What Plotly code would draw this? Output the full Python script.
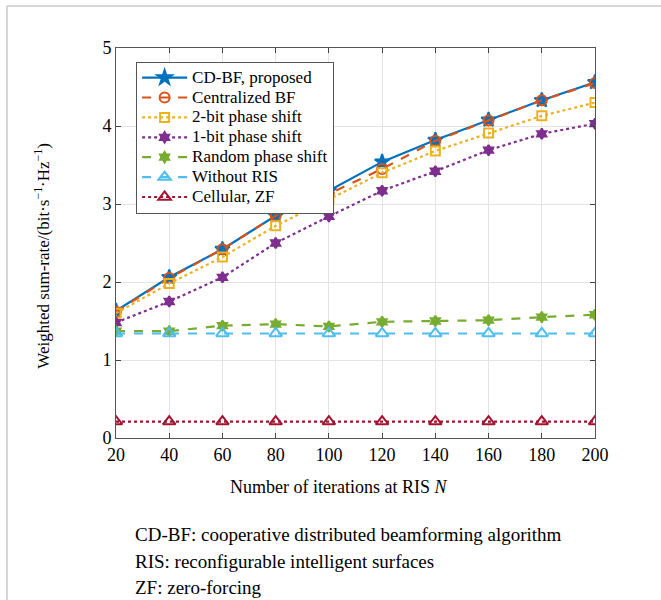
import plotly.graph_objects as go

N = [20, 40, 60, 80, 100, 120, 140, 160, 180, 200]
cdbf = [1.63, 2.06, 2.42, 2.85, 3.17, 3.54, 3.82, 4.08, 4.33, 4.56]
central = [1.62, 2.05, 2.42, 2.85, 3.13, 3.45, 3.81, 4.07, 4.33, 4.55]
bit2 = [1.60, 1.98, 2.32, 2.72, 3.06, 3.40, 3.68, 3.91, 4.13, 4.30]
bit1 = [1.48, 1.75, 2.06, 2.50, 2.84, 3.17, 3.42, 3.69, 3.90, 4.03]
rand_ps = [1.37, 1.37, 1.44, 1.46, 1.43, 1.49, 1.50, 1.51, 1.55, 1.58]
no_ris = [1.34, 1.34, 1.34, 1.34, 1.34, 1.34, 1.34, 1.34, 1.34, 1.34]
cell_zf = [0.21, 0.21, 0.21, 0.21, 0.21, 0.21, 0.21, 0.21, 0.21, 0.21]

names = ["CD-BF, proposed", "Centralized BF", "2-bit phase shift", "1-bit phase shift",
         "Random phase shift", "Without RIS", "Cellular, ZF"]
x_ticks = [20, 40, 60, 80, 100, 120, 140, 160, 180, 200]
y_ticks = [0, 1, 2, 3, 4, 5]

styles = [
    dict(color="#0072BD", dash="solid", symbol="star", size=11, lw=2.2),
    dict(color="#D95319", dash="dash", symbol="circle-open", size=10, lw=2.2),
    dict(color="#EDB120", dash="dot", symbol="square-open", size=9, lw=2.2),
    dict(color="#7E2F8E", dash="dot", symbol="hexagram", size=8, lw=2.2),
    dict(color="#77AC30", dash="dash", symbol="hexagram", size=8, lw=2.2),
    dict(color="#4DBEEE", dash="dash", symbol="triangle-up-open", size=11, lw=2.2),
    dict(color="#A2142F", dash="dot", symbol="triangle-up-open", size=11, lw=2.2),
]
series = [cdbf, central, bit2, bit1, rand_ps, no_ris, cell_zf]

fig = go.Figure()
for nm, ys, st in zip(names, series, styles):
    fig.add_trace(go.Scatter(
        x=N, y=ys, name='<span style="font-size:17px">' + nm + '</span>',
        mode="lines+markers",
        line=dict(color=st["color"], dash=st["dash"], width=st["lw"]),
        marker=dict(symbol=st["symbol"], size=st["size"], color=st["color"],
                    line=dict(color=st["color"], width=2)),
    ))

serif = "Liberation Serif"

fig.update_layout(
    width=661, height=600,
    margin=dict(l=116, r=66, t=48, b=162),
    paper_bgcolor="white", plot_bgcolor="white",
    font=dict(family=serif, size=18, color="black"),
    showlegend=True,
    legend=dict(x=0.042, y=0.965, xanchor="left", yanchor="top",
                bordercolor="#555555", borderwidth=1, bgcolor="white",
                font=dict(family=serif, size=13, color="black"),
                itemwidth=45, tracegroupgap=0),
    xaxis=dict(range=[20, 200], tickvals=x_ticks, ticks="inside", ticklen=5,
               showline=True, linecolor="#555555", linewidth=1, mirror="ticks",
               showgrid=True, gridcolor="#e3e3e3", zeroline=False,
               tickfont=dict(family=serif, size=18)),
    yaxis=dict(range=[0, 5], tickvals=y_ticks, ticks="inside", ticklen=5,
               showline=True, linecolor="#555555", linewidth=1, mirror="ticks",
               showgrid=True, gridcolor="#e3e3e3", zeroline=False,
               tickfont=dict(family=serif, size=18)),
)

fig.add_annotation(x=-0.155, y=0.467, xref="paper", yref="paper",
                   xanchor="center", yanchor="middle",
                   text="Weighted sum-rate/(bit\u00b7s<sup>\u22121</sup>\u00b7Hz<sup>\u22121</sup>)",
                   textangle=-90, showarrow=False, font=dict(family=serif, size=17))
fig.add_annotation(x=0.4635, y=-0.1256, xref="paper", yref="paper",
                   xanchor="center", yanchor="middle",
                   text="Number of iterations at RIS <i>N</i>",
                   showarrow=False, font=dict(family=serif, size=18))

captions = ["CD-BF: cooperative distributed beamforming algorithm",
            "RIS: reconfigurable intelligent surfaces",
            "ZF: zero-forcing"]
for i, c in enumerate(captions):
    fig.add_annotation(x=0.0355, y=-0.2487 - i * 0.0667, xref="paper", yref="paper",
                       xanchor="left", yanchor="middle", text=c, showarrow=False,
                       font=dict(family=serif, size=19))

# outer frame lines
fig.add_shape(type="line", xref="paper", yref="paper", x0=-0.2276, x1=1.14, y0=1.1077, y1=1.1077,
              line=dict(color="#c8c8c8", width=1.5))
fig.add_shape(type="line", xref="paper", yref="paper", x0=-0.2276, x1=-0.2276, y0=1.1077, y1=-0.42,
              line=dict(color="#c8c8c8", width=1.5))

fig.write_html("out.html")
